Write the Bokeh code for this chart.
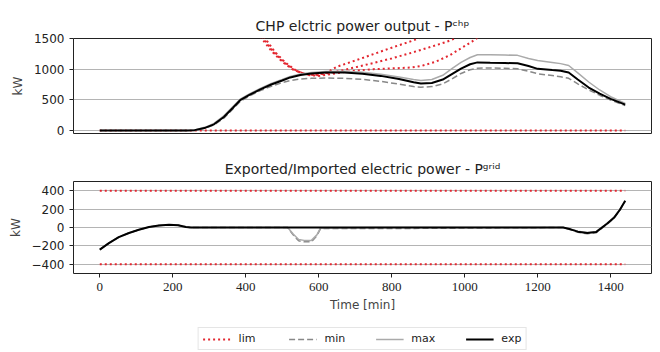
from bokeh.plotting import figure
from bokeh.models import Range1d, Legend, LegendItem, FixedTicker
from bokeh.layouts import column
from bokeh.embed import file_html
from bokeh.resources import INLINE

# ---------------- data: top panel (CHP electric power, kW) ----------------
t_chp = [0, 240, 260, 290, 313, 340, 365, 386, 410, 440, 470, 500, 522, 550, 580, 620, 670,
         720, 770, 820, 860, 880, 910, 940, 965, 990, 1015, 1035, 1070, 1110, 1145, 1175, 1200,
         1240, 1263, 1285, 1310, 1340, 1370, 1400, 1440]
chp_exp = [0, 0, 5, 45, 100, 220, 370, 500, 580, 670, 750, 815, 865, 905, 930, 945, 945,
           925, 890, 840, 785, 765, 775, 830, 920, 1010, 1080, 1110, 1105, 1100, 1095, 1050, 1005,
           985, 975, 945, 830, 700, 600, 515, 420]
chp_max = [0, 0, 8, 55, 115, 240, 390, 515, 595, 685, 765, 830, 880, 920, 945, 960, 965,
           950, 915, 870, 830, 815, 830, 900, 1010, 1110, 1190, 1235, 1235, 1230, 1225, 1175, 1140,
           1110, 1090, 1060, 940, 790, 660, 550, 440]
chp_min = [0, 0, 3, 40, 90, 200, 350, 480, 560, 650, 720, 780, 815, 840, 850, 855, 850,
           835, 800, 755, 715, 705, 715, 760, 840, 930, 990, 1015, 1020, 1015, 1005, 965, 925,
           895, 875, 850, 760, 660, 575, 495, 405]

# limit curves (top panel)
t_lim_low = [0, 1440]
lim_low = [0, 0]
t_lim_a = [440, 470, 500, 530, 560, 590, 620, 650, 700, 750, 800, 850, 875]
lim_a = [1530, 1300, 1120, 990, 925, 905, 935, 1040, 1140, 1245, 1350, 1450, 1505]
t_lim_b = [445, 475, 505, 535, 565, 595, 650, 700, 750, 800, 850, 900, 950, 975]
lim_b = [1530, 1290, 1110, 980, 915, 900, 960, 1030, 1100, 1175, 1260, 1350, 1445, 1505]
t_lim_c = [450, 480, 510, 540, 570, 600, 650, 700, 750, 800, 850, 880, 920, 960, 990, 1020, 1035]
lim_c = [1530, 1280, 1100, 970, 905, 890, 935, 975, 1000, 1012, 1025, 1050, 1120, 1230, 1340, 1450, 1510]

# ---------------- data: bottom panel (grid power, kW) ----------------
t_grid = [0, 25, 52, 80, 107, 135, 162, 190, 215, 236, 250, 515, 530, 545, 560, 580, 595, 605,
          760, 1270, 1290, 1310, 1336, 1360, 1390, 1410, 1425, 1440]
grid_exp = [-240, -170, -105, -60, -25, 5, 22, 30, 25, 5, 0, 0, 0, 0, 0, 0, 0, 0,
            0, 0, -20, -45, -60, -50, 40, 110, 190, 290]
grid_min = [-240, -170, -105, -60, -25, 5, 22, 30, 25, 5, 0, 0, -80, -145, -155, -155, -90, -12,
            -12, 0, -25, -52, -68, -58, 35, 105, 185, 290]
grid_max = [-240, -170, -105, -60, -25, 5, 22, 30, 25, 5, 0, 0, -70, -130, -140, -140, -80, -5,
            0, 0, -15, -40, -55, -45, 45, 115, 195, 290]
t_grid_lim = [0, 1440]
grid_lim_up = [400, 400]
grid_lim_low = [-400, -400]

# ---------------- tick labels ----------------
chp_ticks = [0, 500, 1000, 1500]
grid_ticks = [-400, -200, 0, 200, 400]
time_ticks = [0, 200, 400, 600, 800, 1000, 1200, 1400]
legend_labels = ["lim", "min", "max", "exp"]

RED = "#e3262f"
SANS = "DejaVu Sans"

xr = Range1d(-72, 1512)


def style(p, yticks):
    p.title.align = "center"
    p.title.text_font = SANS
    p.title.text_font_size = "14px"
    p.title.text_font_style = "normal"
    p.title.text_color = "#222222"
    p.outline_line_color = "#222222"
    p.outline_line_width = 1
    p.xgrid.visible = False
    p.ygrid.grid_line_color = "#b4b4b4"
    p.ygrid.grid_line_width = 1
    p.yaxis.ticker = FixedTicker(ticks=yticks)
    p.yaxis.axis_label = "kW"
    p.yaxis.axis_label_text_font = SANS
    p.yaxis.axis_label_text_font_size = "12px"
    p.yaxis.axis_label_text_font_style = "normal"
    p.yaxis.axis_label_standoff = 6
    p.yaxis.major_label_text_font = SANS
    p.yaxis.major_label_text_font_size = "12px"
    p.yaxis.major_label_text_color = "#222222"
    for ax in (p.xaxis[0], p.yaxis[0]):
        ax.axis_line_color = None
        ax.major_tick_out = 4
        ax.major_tick_in = 0
        ax.minor_tick_line_color = None
        ax.major_tick_line_color = "#222222"


p1 = figure(width=660, height=140, x_range=xr, y_range=Range1d(-50, 1500),
            output_backend="svg", toolbar_location=None,
            min_border_left=73, min_border_right=9, min_border_top=38, min_border_bottom=7,
            title="CHP elctric power output - P\u1d9c\u02b0\u1d56")
style(p1, chp_ticks)
p1.xaxis.visible = False

p1.line(t_lim_low, lim_low, line_color=RED, line_width=2, line_dash="2 3")
for tt, vv in ((t_lim_a, lim_a), (t_lim_b, lim_b), (t_lim_c, lim_c)):
    p1.line(tt, vv, line_color=RED, line_width=2, line_dash="2 3")
p1.line(t_chp, chp_min, line_color="#888888", line_width=1.5, line_dash="6 3")
p1.line(t_chp, chp_max, line_color="#aaaaaa", line_width=1.5)
p1.line(t_chp, chp_exp, line_color="black", line_width=2)

p2 = figure(width=660, height=178, x_range=xr, y_range=Range1d(-500, 500),
            output_backend="svg", toolbar_location=None,
            min_border_left=73, min_border_right=9, min_border_top=41, min_border_bottom=45,
            title="Exported/Imported electric power - P\u1d4d\u02b3\u2071\u1d48")
style(p2, grid_ticks)
p2.xaxis.ticker = FixedTicker(ticks=time_ticks)
p2.xaxis.axis_label = "Time [min]"
p2.xaxis.axis_label_text_font = SANS
p2.xaxis.axis_label_text_font_size = "12px"
p2.xaxis.axis_label_text_font_style = "normal"
p2.xaxis.axis_label_standoff = 4
p2.xaxis.major_label_text_font = "Liberation Serif"
p2.xaxis.major_label_text_font_size = "13px"
p2.xaxis.major_label_text_color = "#222222"

p2.line(t_grid_lim, grid_lim_up, line_color=RED, line_width=2, line_dash="2 3")
p2.line(t_grid_lim, grid_lim_low, line_color=RED, line_width=2, line_dash="2 3")
p2.line(t_grid, grid_min, line_color="#888888", line_width=1.5, line_dash="6 3")
p2.line(t_grid, grid_max, line_color="#aaaaaa", line_width=1.5)
p2.line(t_grid, grid_exp, line_color="black", line_width=2)

# legend strip (its glyph renderers sit outside the visible range)
p3 = figure(width=660, height=34, x_range=Range1d(0, 1), y_range=Range1d(0, 1),
            output_backend="svg", toolbar_location=None,
            min_border_left=73, min_border_right=9, min_border_top=0, min_border_bottom=0)
p3.axis.visible = False
p3.grid.visible = False
p3.outline_line_color = None
hidden_x = [-5, -4]
hidden_y = [-5, -4]
lr_lim = p3.line(hidden_x, hidden_y, line_color=RED, line_width=2, line_dash="2 3")
lr_min = p3.line(hidden_x, hidden_y, line_color="#888888", line_width=1.5, line_dash="6 3")
lr_max = p3.line(hidden_x, hidden_y, line_color="#aaaaaa", line_width=1.5)
lr_exp = p3.line(hidden_x, hidden_y, line_color="black", line_width=2)
legend = Legend(items=[LegendItem(label=legend_labels[0], renderers=[lr_lim]),
                       LegendItem(label=legend_labels[1], renderers=[lr_min]),
                       LegendItem(label=legend_labels[2], renderers=[lr_max]),
                       LegendItem(label=legend_labels[3], renderers=[lr_exp])],
                orientation="horizontal", location="bottom_center")
legend.label_text_font = SANS
legend.label_text_font_size = "11px"
legend.label_text_color = "#222222"
legend.glyph_width = 28
legend.glyph_height = 12
legend.label_height = 12
legend.label_standoff = 8
legend.spacing = 30
legend.padding = 4
legend.margin = 2
legend.border_line_color = "#cccccc"
legend.border_line_width = 1
p3.add_layout(legend, "center")

layout = column(p1, p2, p3, spacing=0)
open("out.html", "w").write(file_html(layout, INLINE))
